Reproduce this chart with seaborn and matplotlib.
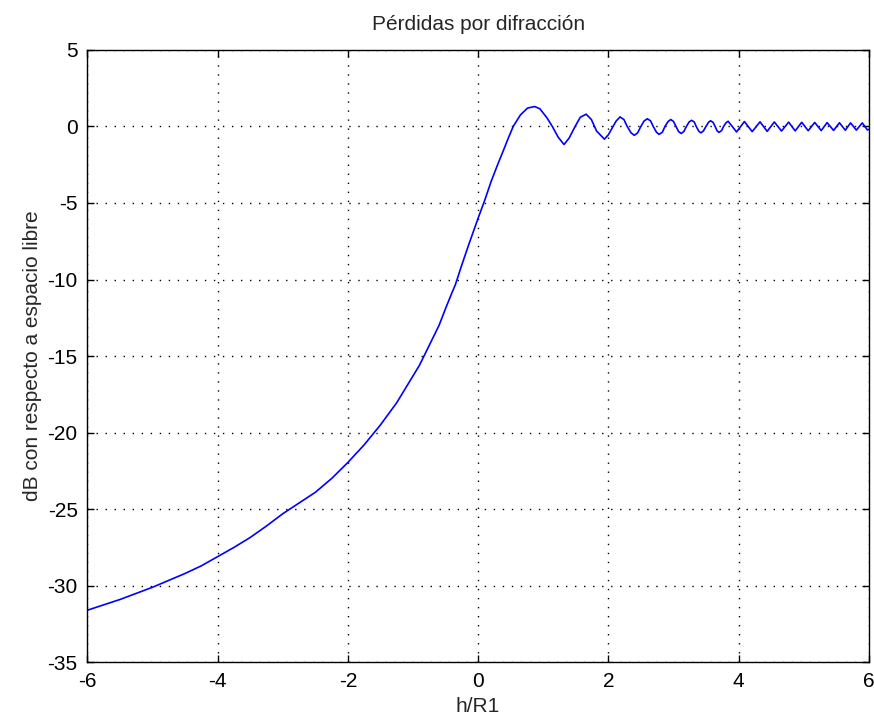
import matplotlib
matplotlib.use("Agg")
import matplotlib.pyplot as plt
import seaborn as sns
import pandas as pd

# Values
h_r1 = [-6.0, -5.75, -5.5, -5.25, -5.0, -4.75, -4.5, -4.25, -4.0, -3.75, -3.5, -3.25,
        -3.0, -2.75, -2.5, -2.25, -2.0, -1.75, -1.5, -1.25, -1.1, -1.0, -0.9,
        -0.75, -0.6, -0.5, -0.4, -0.35, -0.25, -0.15, -0.1, 0.0, 0.065, 0.1, 0.2,
        0.3, 0.4, 0.47, 0.54, 0.65, 0.76,
        0.87, 0.95, 1.06, 1.14, 1.23, 1.32, 1.40, 1.49, 1.57, 1.66, 1.74, 1.82,
        1.94, 2.00, 2.06, 2.12, 2.18, 2.24, 2.29, 2.35, 2.40, 2.45, 2.50, 2.55,
        2.60, 2.65, 2.69, 2.74, 2.78, 2.83, 2.87, 2.92, 2.96, 3.00, 3.04, 3.08,
        3.12, 3.16, 3.20, 3.24, 3.28, 3.32, 3.35, 3.39, 3.42, 3.46, 3.50, 3.54,
        3.57, 3.61, 3.64, 3.67, 3.70, 3.74, 3.77, 3.81, 3.84,
        3.97, 4.09, 4.21, 4.33, 4.44, 4.55, 4.66, 4.77, 4.87, 4.97,
        5.07, 5.17, 5.27, 5.36, 5.46, 5.55, 5.64, 5.72, 5.81, 5.90, 5.98, 6.0]
db_loss = [-31.6, -31.25, -30.9, -30.5, -30.1, -29.65, -29.2, -28.7, -28.1, -27.5, -26.85, -26.1,
           -25.3, -24.6, -23.9, -23.0, -21.95, -20.8, -19.5, -18.05, -17.0, -16.3, -15.6,
           -14.3, -13.0, -11.9, -10.85, -10.35, -9.05, -7.8, -7.2, -6.0, -5.25, -4.85, -3.6,
           -2.5, -1.45, -0.7, 0.0, 0.75, 1.2,
           1.3, 1.15, 0.55, 0.0, -0.7, -1.18, -0.75, 0.0, 0.6, 0.80, 0.45, -0.3,
           -0.83, -0.55, -0.1, 0.35, 0.62, 0.45, 0.0, -0.42, -0.58, -0.42, 0.0, 0.36,
           0.50, 0.36, 0.0, -0.38, -0.52, -0.38, 0.0, 0.33, 0.45, 0.33, 0.0, -0.34,
           -0.46, -0.33, 0.0, 0.29, 0.40, 0.29, 0.0, -0.31, -0.42, -0.30, 0.0, 0.27,
           0.37, 0.26, 0.0, -0.28, -0.39, -0.27, 0.0, 0.25, 0.34,
           -0.36, 0.32, -0.34, 0.30, -0.32, 0.29, -0.30, 0.28, -0.29, 0.27,
           -0.28, 0.26, -0.27, 0.25, -0.26, 0.24, -0.25, 0.23, -0.24, 0.23, -0.23, -0.2]

x_ticks = [-6, -4, -2, 0, 2, 4, 6]
y_ticks = [5, 0, -5, -10, -15, -20, -25, -30, -35]

title = "Pérdidas por difracción"
xlabel = "h/R1"
ylabel = "dB con respecto a espacio libre"

df = pd.DataFrame({"h": h_r1, "db": db_loss})

sns.set_theme(style="white")
plt.rcParams["font.family"] = ["Liberation Sans", "DejaVu Sans"]

fig = plt.figure(figsize=(8.74, 7.23), dpi=100)
ax = fig.add_axes([0.1, 0.084, 0.894, 0.847])

sns.lineplot(data=df, x="h", y="db", ax=ax, color="#0000ff", linewidth=1.2,
             estimator=None, sort=False)

ax.set_xlim(-6, 6)
ax.set_ylim(-35, 5)
ax.set_xticks(x_ticks)
ax.set_yticks(y_ticks)
ax.set_xticklabels([str(t) for t in x_ticks])
ax.set_yticklabels([str(t) for t in y_ticks])
ax.grid(True, color="black", linestyle=(0, (1, 5.5)), linewidth=1.0)
for s in ax.spines.values():
    s.set_color("black")
    s.set_linewidth(1.0)
ax.tick_params(direction="in", length=5, width=1, colors="black", labelsize=15,
               top=True, right=True, bottom=True, left=True, pad=7)
ax.set_title(title, fontsize=15, pad=14)
ax.set_xlabel(xlabel, fontsize=15, labelpad=4)
ax.set_ylabel(ylabel, fontsize=15, labelpad=4)

fig.savefig("out.png", dpi=100, facecolor="white")
